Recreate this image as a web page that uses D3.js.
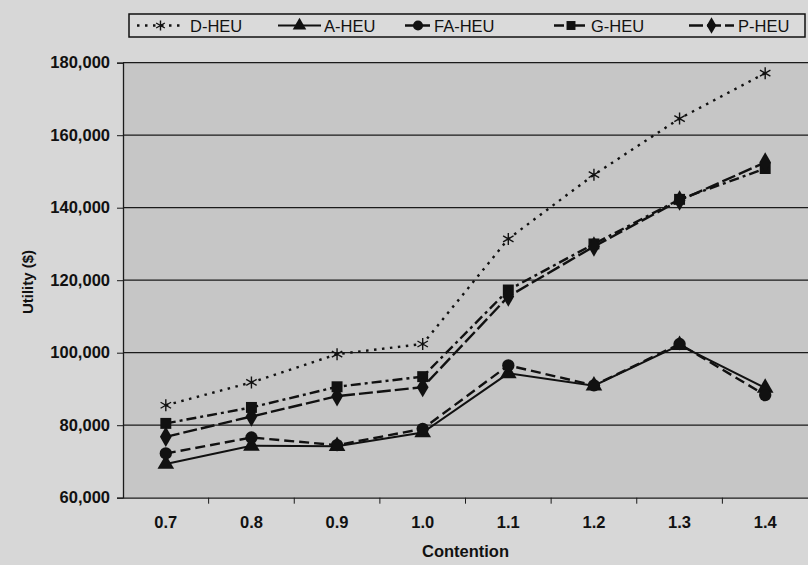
<!DOCTYPE html>
<html lang="en">
<head>
<meta charset="utf-8">
<title>Utility vs Contention</title>
<script src="https://cdn.jsdelivr.net/npm/d3@7"></script>
<style>
  body { margin: 0; background: #d7d7d7; }
  svg text { font-family: "Liberation Sans", Arial, sans-serif; fill: #111; }
</style>
</head>
<body>
<svg class="canvas"></svg>
<script>
var categories = ["0.7", "0.8", "0.9", "1.0", "1.1", "1.2", "1.3", "1.4"];
var yTicks = [60000, 80000, 100000, 120000, 140000, 160000, 180000];

var dHeu  = [85500, 91800, 99600, 102400, 131400, 149100, 164600, 177100];
var aHeu  = [69300, 74300, 74200, 78000, 94300, 90900, 102100, 90300];
var faHeu = [72200, 76600, 74500, 79000, 96500, 91000, 102400, 88300];
var gHeu  = [80500, 84900, 90600, 93400, 117300, 130000, 142300, 150800];
var pHeu  = [76800, 82400, 88000, 90500, 115500, 129300, 142000, 152500];

var seriesNames = ["D-HEU", "A-HEU", "FA-HEU", "G-HEU", "P-HEU"];

(function () {
  var width = 808, height = 565;
  var left = 123, right = 808, top = 62.7, bottom = 497.7;

  var svg = d3.select('.canvas')
    .attr('width', width)
    .attr('height', height);

  svg.append('rect')
    .attr('width', width).attr('height', height)
    .attr('fill', '#d7d7d7');

  var x = d3.scaleBand().domain(categories).range([left, right]).padding(0);
  var y = d3.scaleLinear().domain([60000, 180000]).range([bottom, top]);
  var cx = function (i) { return x(categories[i]) + x.bandwidth() / 2; };

  // plot area
  svg.append('rect')
    .attr('x', left).attr('y', top)
    .attr('width', right - left).attr('height', bottom - top)
    .attr('fill', '#c6c6c6');

  // gridlines
  svg.append('g').selectAll('line')
    .data(yTicks.slice(1))
    .enter().append('line')
    .attr('x1', left).attr('x2', right)
    .attr('y1', function (d) { return y(d); })
    .attr('y2', function (d) { return y(d); })
    .attr('stroke', '#1a1a1a').attr('stroke-width', 1.3);

  // y axis
  var yAxis = svg.append('g')
    .attr('transform', 'translate(' + left + ',0)')
    .call(d3.axisLeft(y).tickValues(yTicks).tickSize(6).tickPadding(7)
      .tickFormat(d3.format(',')));
  yAxis.selectAll('text').style('font-size', '16.5px').style('font-weight', 'bold');

  // x axis
  var xAxis = svg.append('g')
    .attr('transform', 'translate(0,' + bottom + ')')
    .call(d3.axisBottom(x).tickSize(0).tickPadding(19));
  xAxis.selectAll('text').style('font-size', '16.5px').style('font-weight', 'bold');
  xAxis.append('g').selectAll('line')
    .data(categories.slice(1))
    .enter().append('line')
    .attr('x1', function (d) { return x(d); })
    .attr('x2', function (d) { return x(d); })
    .attr('y1', 0).attr('y2', 6)
    .attr('stroke', '#1a1a1a');

  svg.selectAll('.domain').attr('stroke', '#1a1a1a').attr('stroke-width', 1.3);
  svg.selectAll('.tick line').attr('stroke', '#1a1a1a');
  svg.selectAll('.tick text').attr('fill', '#111');

  // axis titles
  svg.append('text')
    .attr('x', (left + right) / 2).attr('y', 557)
    .attr('text-anchor', 'middle')
    .style('font-size', '16.5px').style('font-weight', 'bold')
    .text('Contention');
  svg.append('text')
    .attr('transform', 'translate(33,282) rotate(-90)')
    .attr('text-anchor', 'middle')
    .style('font-size', '15px').style('font-weight', 'bold')
    .text('Utility ($)');

  var star = function (g, s) {
    g.append('path')
      .attr('d', 'M0,' + (-s) + 'V' + s +
        'M' + (-s * 0.87) + ',' + (-s * 0.5) + 'L' + (s * 0.87) + ',' + (s * 0.5) +
        'M' + (-s * 0.87) + ',' + (s * 0.5) + 'L' + (s * 0.87) + ',' + (-s * 0.5))
      .attr('stroke', '#111').attr('stroke-width', 1.4).attr('fill', 'none');
  };

  var series = [
    { name: seriesNames[0], values: dHeu,  dash: '2.5,5.5', width: 2.4, marker: 'star' },
    { name: seriesNames[1], values: aHeu,  dash: null,      width: 2,   marker: d3.symbolTriangle, size: 120 },
    { name: seriesNames[2], values: faHeu, dash: '10,5',    width: 2.4, marker: d3.symbolCircle,   size: 120 },
    { name: seriesNames[3], values: gHeu,  dash: '10,4,3,4', width: 2.4, marker: d3.symbolSquare,  size: 120 },
    { name: seriesNames[4], values: pHeu,  dash: '14,4',    width: 2.4, marker: d3.symbolDiamond,  size: 120 }
  ];

  var line = d3.line()
    .x(function (d, i) { return cx(i); })
    .y(function (d) { return y(d); });

  series.forEach(function (s) {
    svg.append('path')
      .datum(s.values)
      .attr('d', line)
      .attr('fill', 'none')
      .attr('stroke', '#111')
      .attr('stroke-width', s.width)
      .attr('stroke-dasharray', s.dash);
  });

  series.forEach(function (s) {
    s.values.forEach(function (v, i) {
      var g = svg.append('g').attr('transform', 'translate(' + cx(i) + ',' + y(v) + ')');
      if (s.marker === 'star') {
        star(g, 6);
      } else {
        g.append('path').attr('d', d3.symbol().type(s.marker).size(s.size)()).attr('fill', '#111');
      }
    });
  });

  // legend
  var lg = svg.append('g');
  lg.append('rect')
    .attr('x', 129).attr('y', 14).attr('width', 676).attr('height', 23)
    .attr('fill', '#dadada').attr('stroke', '#111').attr('stroke-width', 1.5);
  var items = [
    { x0: 137, x1: 184, tx: 190 },
    { x0: 278, x1: 321, tx: 324 },
    { x0: 405, x1: 431, tx: 434 },
    { x0: 554, x1: 588, tx: 591 },
    { x0: 689, x1: 734, tx: 738 }
  ];
  series.forEach(function (s, k) {
    var it = items[k];
    lg.append('line')
      .attr('x1', it.x0).attr('x2', it.x1).attr('y1', 25.5).attr('y2', 25.5)
      .attr('stroke', '#111').attr('stroke-width', s.width)
      .attr('stroke-dasharray', s.dash);
    var g = lg.append('g').attr('transform', 'translate(' + ((it.x0 + it.x1) / 2) + ',25.5)');
    if (s.marker === 'star') {
      star(g, 5);
    } else {
      g.append('path').attr('d', d3.symbol().type(s.marker).size(80)()).attr('fill', '#111');
    }
    lg.append('text')
      .attr('x', it.tx).attr('y', 31.5)
      .style('font-size', '16.5px')
      .text(s.name);
  });
})();
</script>
</body>
</html>
